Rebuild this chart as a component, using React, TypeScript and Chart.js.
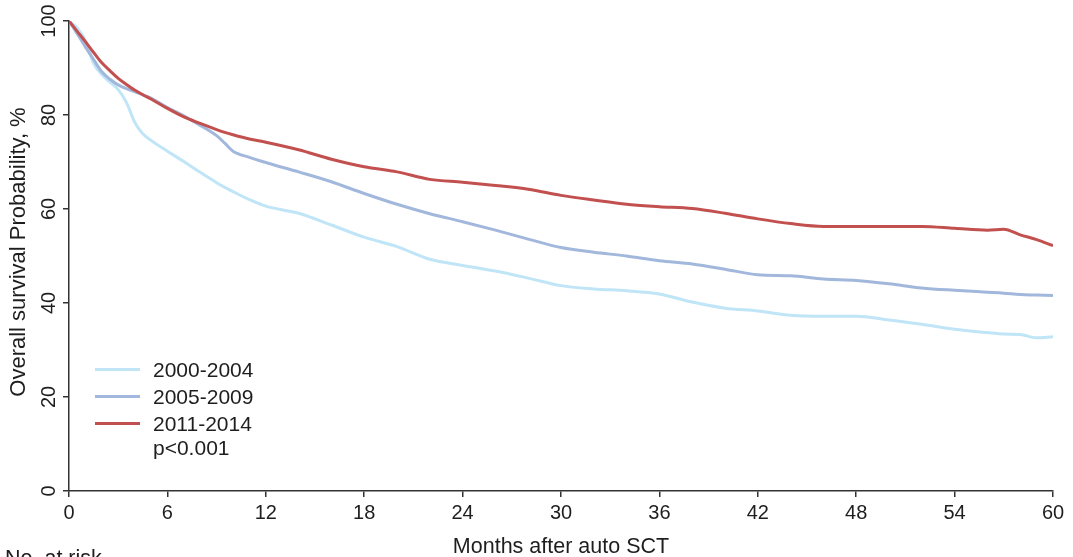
import React, { useEffect, useRef } from 'react';
import { Chart, registerables } from 'chart.js';

Chart.register(...registerables);

const FONT = '"Liberation Sans", Arial, Helvetica, sans-serif';

// Months after auto SCT (shared x grid)
const months = [0, 0.5, 1, 1.5, 2, 2.5, 3, 3.5, 4, 4.5, 5, 6, 7, 8, 9, 9.5, 10, 11, 12, 14, 16, 18, 20, 22, 24, 26, 28, 30, 32, 34, 36, 38, 40, 42, 44, 46, 48, 50, 52, 54, 56, 57, 58, 59, 60];

// Overall survival probability, %
const survival2000_2004 = [100, 98.5, 95.8, 91, 88.6, 87, 85.4, 82.7, 78.5, 76, 74.6, 72.3, 70.1, 67.8, 65.6, 64.6, 63.7, 62, 60.6, 59.1, 56.6, 54, 52, 49.3, 48, 46.8, 45.3, 43.7, 43, 42.6, 41.9, 40.2, 38.9, 38.3, 37.4, 37.2, 37.2, 36.4, 35.5, 34.4, 33.7, 33.4, 33.3, 32.6, 32.8];
const survival2005_2009 = [100, 97.3, 94.5, 91.8, 89.2, 87.6, 86.4, 85.6, 85, 84.3, 83.6, 81.6, 79.8, 77.8, 75.6, 74, 72.3, 71, 69.9, 67.9, 65.8, 63.3, 61, 59, 57.3, 55.5, 53.6, 51.8, 50.8, 50, 49, 48.3, 47.2, 46, 45.8, 45.1, 44.8, 44.1, 43.2, 42.7, 42.3, 42.1, 41.8, 41.7, 41.6];
const survival2011_2014 = [100, 97.8, 95.6, 93.3, 91.1, 89.4, 87.8, 86.5, 85.3, 84.3, 83.4, 81.4, 79.6, 78.2, 76.9, 76.3, 75.8, 74.9, 74.2, 72.6, 70.6, 69, 67.9, 66.3, 65.7, 65, 64.2, 62.9, 61.9, 61, 60.5, 60.1, 59.1, 57.9, 56.9, 56.3, 56.3, 56.3, 56.3, 55.9, 55.5, 55.7, 54.5, 53.5, 52.2];

const seriesLabels = ['2000-2004', '2005-2009', '2011-2014'];
const seriesColors = ['#bfe5f7', '#a2b7dc', '#c2504f'];
const xTicks = [0, 6, 12, 18, 24, 30, 36, 42, 48, 54, 60];
const yTicks = [0, 20, 40, 60, 80, 100];
const pValueText = 'p<0.001';
const xTitle = 'Months after auto SCT';
const yTitle = 'Overall survival Probability, %';
const atRiskText = 'No. at risk';

const AXIS_COLOR = '#333333';
const TEXT_COLOR = '#1e1e1e';

const extrasPlugin = {
  id: 'extras',
  afterDraw(chart: any) {
    const ctx = chart.ctx as CanvasRenderingContext2D;
    const area = chart.chartArea;
    const yScale = chart.scales.y;
    ctx.save();
    ctx.fillStyle = TEXT_COLOR;

    // Y tick labels (rotated)
    ctx.font = `20px ${FONT}`;
    ctx.textAlign = 'center';
    ctx.textBaseline = 'alphabetic';
    yTicks.forEach((v) => {
      const py = yScale.getPixelForValue(v);
      ctx.save();
      ctx.translate(55, py);
      ctx.rotate(-Math.PI / 2);
      ctx.fillText(String(v), 0, 0);
      ctx.restore();
    });

    // Y title
    ctx.font = `22px ${FONT}`;
    ctx.save();
    ctx.translate(25, (area.top + area.bottom) / 2 - 4);
    ctx.rotate(-Math.PI / 2);
    ctx.fillText(yTitle, 0, 0);
    ctx.restore();

    // X title
    ctx.font = `21.5px ${FONT}`;
    ctx.textAlign = 'center';
    ctx.fillText(xTitle, (area.left + area.right) / 2, 553);

    // No. at risk
    ctx.textAlign = 'left';
    ctx.fillText(atRiskText, 5, 565);

    // Legend
    const lx0 = 95;
    const lx1 = 140;
    const rows = [369.5, 396.5, 423.5];
    chart.data.datasets.forEach((ds: any, i: number) => {
      ctx.strokeStyle = ds.borderColor;
      ctx.lineWidth = 3;
      ctx.beginPath();
      ctx.moveTo(lx0, rows[i]);
      ctx.lineTo(lx1, rows[i]);
      ctx.stroke();
      ctx.fillStyle = TEXT_COLOR;
      ctx.font = `21px ${FONT}`;
      ctx.textAlign = 'left';
      ctx.fillText(ds.label, 153, rows[i] + 7);
    });
    ctx.fillText(pValueText, 153, 455);
    ctx.restore();
  },
};

export default function App() {
  const ref = useRef<HTMLCanvasElement>(null);

  useEffect(() => {
    const canvas = ref.current;
    if (!canvas) return;
    const seriesValues = [survival2000_2004, survival2005_2009, survival2011_2014];
    const chart = new Chart(canvas, {
      type: 'line',
      data: {
        datasets: seriesValues.map((vals, i) => ({
          label: seriesLabels[i],
          data: months.map((m, j) => ({ x: m, y: vals[j] })),
          borderColor: seriesColors[i],
          backgroundColor: seriesColors[i],
          borderWidth: 3,
          pointRadius: 0,
          fill: false,
          cubicInterpolationMode: 'monotone' as const,
          order: 2 - i,
        })),
      },
      options: {
        animation: false,
        responsive: false,
        maintainAspectRatio: false,
        layout: { padding: { top: 21, right: 20, left: 0, bottom: 0 } },
        plugins: {
          legend: { display: false },
          tooltip: { enabled: false },
          title: { display: false },
        },
        scales: {
          x: {
            type: 'linear',
            min: 0,
            max: 60,
            afterBuildTicks: (s: any) => {
              s.ticks = xTicks.map((v) => ({ value: v }));
            },
            afterFit: (s: any) => {
              s.height = 66;
            },
            grid: {
              drawOnChartArea: false,
              drawTicks: true,
              tickLength: 6,
              color: AXIS_COLOR,
              lineWidth: 1.5,
            },
            border: { display: true, color: AXIS_COLOR, width: 1.5 },
            ticks: {
              color: TEXT_COLOR,
              font: { family: FONT, size: 20 },
              padding: 4,
              maxRotation: 0,
              minRotation: 0,
              autoSkip: false,
            },
          },
          y: {
            type: 'linear',
            min: 0,
            max: 100,
            afterBuildTicks: (s: any) => {
              s.ticks = yTicks.map((v) => ({ value: v }));
            },
            afterFit: (s: any) => {
              s.width = 69;
            },
            grid: {
              drawOnChartArea: false,
              drawTicks: true,
              tickLength: 6,
              color: AXIS_COLOR,
              lineWidth: 1.5,
            },
            border: { display: true, color: AXIS_COLOR, width: 1.5 },
            ticks: {
              callback: () => '',
              font: { family: FONT, size: 19 },
            },
          },
        },
      },
      plugins: [extrasPlugin],
    });
    return () => chart.destroy();
  }, []);

  return (
    <div style={{ position: 'absolute', left: 0, top: 0, width: 1073, height: 557, background: '#ffffff' }}>
      <canvas ref={ref} width={1073} height={557} style={{ display: 'block' }} />
    </div>
  );
}
